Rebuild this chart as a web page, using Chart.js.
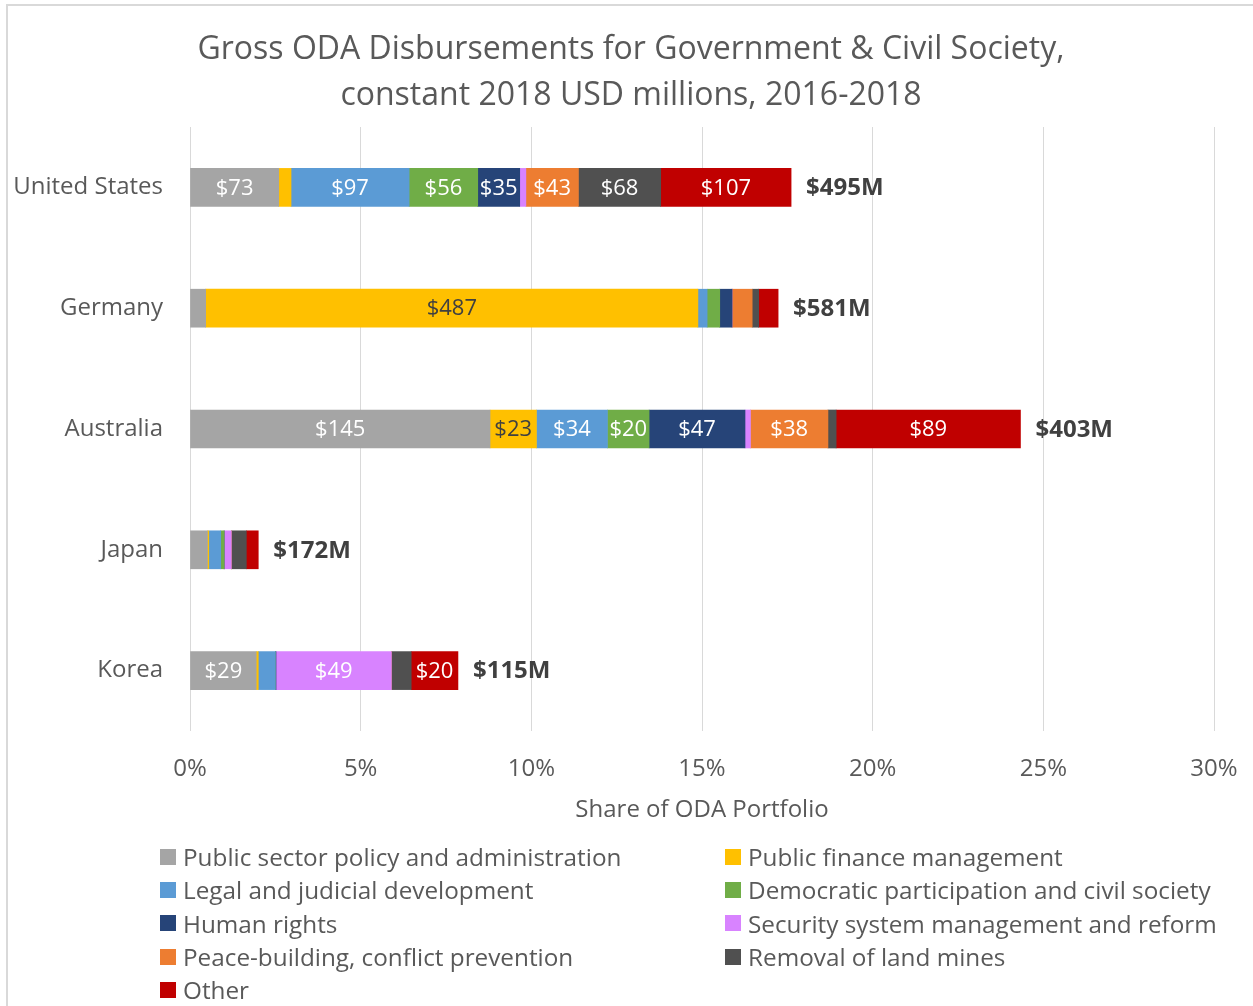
<!DOCTYPE html>
<html>
<head>
<meta charset="utf-8">
<script src="https://cdn.jsdelivr.net/npm/chart.js@4.4.1/dist/chart.umd.min.js"></script>
<style>
  html, body { margin: 0; padding: 0; background: #fff; overflow: hidden; }
  #wrap { position: relative; width: 1253px; height: 1006px; }
  #frame { position: absolute; left: 6px; top: 4px; width: 1400px; height: 1200px; border: 2px solid #d9d9d9; box-sizing: border-box; pointer-events: none; }
  #legend { position: absolute; left: 160px; top: 840px; display: grid; grid-template-columns: 565px 520px; row-gap: 0; font-family: "Open Sans", sans-serif; font-size: 24.3px; color: #595959; }
  .item { display: flex; align-items: center; height: 33.3px; white-space: nowrap; }
  .box { width: 16px; height: 16px; margin-right: 7px; flex: none; }
</style>
</head>
<body>
<div id="wrap">
  <canvas id="c" width="1253" height="1006"></canvas>
  <div id="frame"></div>
  <div id="legend"></div>
</div>
<script>
// ---- Data (share of ODA portfolio, %) ----
const categories = ["United States", "Germany", "Australia", "Japan", "Korea"];
const totalsUSD = [495, 581, 403, 172, 115];

const seriesNames = [
  "Public sector policy and administration",
  "Public finance management",
  "Legal and judicial development",
  "Democratic participation and civil society",
  "Human rights",
  "Security system management and reform",
  "Peace-building, conflict prevention",
  "Removal of land mines",
  "Other"
];
const seriesColors = ["#A5A5A5", "#FFC000", "#5B9BD5", "#70AD47", "#264478", "#D883FF", "#ED7D31", "#505050", "#C00000"];

const publicSector   = [2.60, 0.46, 8.79, 0.51, 1.94];
const publicFinance  = [0.36, 14.42, 1.36, 0.04, 0.06];
const legalJudicial  = [3.46, 0.27, 2.08, 0.35, 0.50];
const democratic     = [2.01, 0.37, 1.22, 0.10, 0.00];
const humanRights    = [1.23, 0.36, 2.81, 0.00, 0.02];
const securitySystem = [0.18, 0.00, 0.16, 0.21, 3.38];
const peaceBuilding  = [1.54, 0.59, 2.27, 0.00, 0.00];
const landMines      = [2.41, 0.19, 0.24, 0.44, 0.58];
const other          = [3.82, 0.57, 5.40, 0.35, 1.37];

// Segment labels (USD millions); null = not labelled
const lblPublicSector   = [73, null, 145, null, 29];
const lblPublicFinance  = [null, 487, 23, null, null];
const lblLegalJudicial  = [97, null, 34, null, null];
const lblDemocratic     = [56, null, 20, null, null];
const lblHumanRights    = [35, null, 47, null, null];
const lblSecuritySystem = [null, null, null, null, 49];
const lblPeaceBuilding  = [43, null, 38, null, null];
const lblLandMines      = [68, null, null, null, null];
const lblOther          = [107, null, 89, null, 20];

const xTicks = [0, 5, 10, 15, 20, 25, 30];
const titleLines = ["Gross ODA Disbursements for Government & Civil Society,", "constant 2018 USD millions, 2016-2018"];

const seriesValues = [publicSector, publicFinance, legalJudicial, democratic, humanRights, securitySystem, peaceBuilding, landMines, other];
const seriesLabels = [lblPublicSector, lblPublicFinance, lblLegalJudicial, lblDemocratic, lblHumanRights, lblSecuritySystem, lblPeaceBuilding, lblLandMines, lblOther];
const labelColors = ["#ffffff", "#404040", "#ffffff", "#ffffff", "#ffffff", "#ffffff", "#ffffff", "#ffffff", "#ffffff"];

const FONT = "'Open Sans', sans-serif";

const datasets = seriesNames.map((name, i) => ({
  label: name,
  data: seriesValues[i],
  backgroundColor: seriesColors[i],
  borderWidth: 0,
  barThickness: 38,
  segLabels: seriesLabels[i],
  segLabelColor: labelColors[i]
}));

const titlePlugin = {
  id: 'twoLineTitle',
  afterDraw(chart) {
    const ctx = chart.ctx;
    ctx.save();
    ctx.font = "32px " + FONT;
    ctx.fillStyle = '#595959';
    ctx.textAlign = 'center';
    ctx.textBaseline = 'middle';
    titleLines.forEach((t, i) => ctx.fillText(t, 631, 50 + i * 46));
    ctx.restore();
  }
};

const labelPlugin = {
  id: 'segLabels',
  afterDatasetsDraw(chart) {
    const ctx = chart.ctx;
    ctx.save();
    ctx.textBaseline = 'middle';
    ctx.textAlign = 'center';
    ctx.font = "22px " + FONT;
    chart.data.datasets.forEach((ds, i) => {
      const meta = chart.getDatasetMeta(i);
      meta.data.forEach((el, j) => {
        const v = ds.segLabels[j];
        if (v === null || v === undefined) return;
        ctx.fillStyle = ds.segLabelColor;
        ctx.fillText("$" + v, (el.x + el.base) / 2, el.y + 1);
      });
    });
    // totals
    const last = chart.getDatasetMeta(chart.data.datasets.length - 1);
    ctx.textAlign = 'left';
    ctx.font = "bold 24px " + FONT;
    ctx.fillStyle = '#404040';
    last.data.forEach((el, j) => {
      ctx.fillText("$" + totalsUSD[j] + "M", el.x + 15, el.y + 1);
    });
    ctx.restore();
  }
};

const chart = new Chart(document.getElementById('c'), {
  type: 'bar',
  data: { labels: categories, datasets },
  options: {
    indexAxis: 'y',
    responsive: false,
    animation: false,
    layout: { padding: { left: 0, right: 39, top: 127, bottom: 175 } },
    plugins: {
      legend: { display: false },
      tooltip: { enabled: false },
      title: { display: false }
    },
    scales: {
      x: {
        stacked: true,
        min: 0, max: 30,
        afterBuildTicks(scale) { scale.ticks = xTicks.map(v => ({ value: v })); },
        afterFit(scale) { scale.height = 100; scale.paddingLeft = 0; scale.paddingRight = 0; },
        grid: { color: '#d9d9d9', lineWidth: 1, drawTicks: false },
        border: { display: false },
        ticks: { color: '#595959', font: { family: FONT, size: 24 }, padding: 24, callback: v => v + '%' },
        title: { display: true, text: 'Share of ODA Portfolio', color: '#595959', font: { family: FONT, size: 24 }, padding: { top: 0, bottom: 6 } }
      },
      y: {
        stacked: true,
        afterFit(scale) { scale.width = 190; },
        grid: { display: false, drawTicks: false },
        border: { display: false },
        ticks: { color: '#595959', font: { family: FONT, size: 24 }, padding: 27 }
      }
    }
  },
  plugins: [labelPlugin, titlePlugin]
});

// HTML legend built from the chart's datasets
const legendEl = document.getElementById('legend');
chart.data.datasets.forEach(ds => {
  const item = document.createElement('div');
  item.className = 'item';
  const box = document.createElement('span');
  box.className = 'box';
  box.style.background = ds.backgroundColor;
  const txt = document.createElement('span');
  txt.textContent = ds.label;
  item.appendChild(box);
  item.appendChild(txt);
  legendEl.appendChild(item);
});
</script>
</body>
</html>
